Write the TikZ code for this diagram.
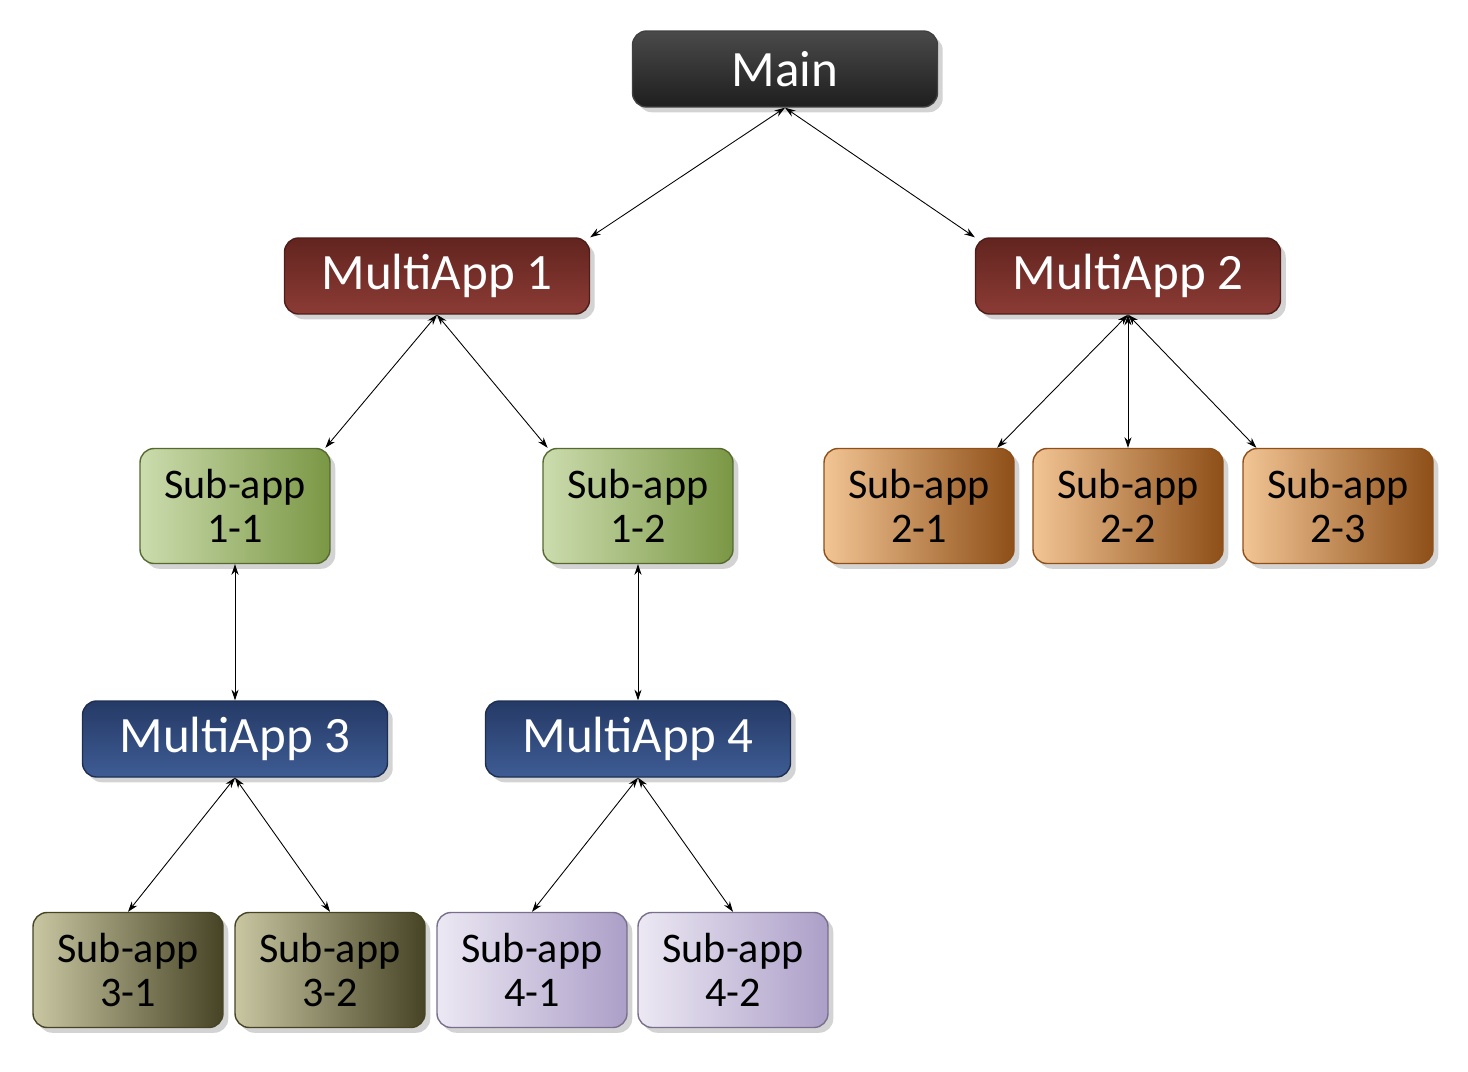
\documentclass[tikz,border=0pt]{standalone}
\usepackage{fontspec}
\setmainfont{Carlito}
\usetikzlibrary{shadows,arrows.meta}
\definecolor{mtop}{HTML}{4A4A4A}\definecolor{mbot}{HTML}{1E1E1E}
\definecolor{rtop}{HTML}{62241F}\definecolor{rbot}{HTML}{8C3B35}
\definecolor{btop}{HTML}{253A66}\definecolor{bbot}{HTML}{3E5C94}
\definecolor{gl}{HTML}{CCDCAE}\definecolor{gr}{HTML}{7A9744}
\definecolor{ol}{HTML}{F2C594}\definecolor{or}{HTML}{8E4F18}
\definecolor{kl}{HTML}{C9C6A2}\definecolor{kr}{HTML}{474426}
\definecolor{ll}{HTML}{ECE8F3}\definecolor{lr}{HTML}{AC9FC8}
\tikzset{
 base/.style={rounded corners=8pt, draw=black!75, line width=0.8pt, drop shadow={shadow xshift=3pt,shadow yshift=-3pt,opacity=0.35}},
 big/.style={base, minimum width=6.1cm, minimum height=1.52cm, font=\fontsize{29}{30}\selectfont, text=white},
 small/.style={base, minimum width=3.8cm, minimum height=2.3cm, align=center, font=\fontsize{24}{25}\selectfont, text=black},
 mainbox/.style={big, top color=mtop, bottom color=mbot},
 redbox/.style={big, top color=rtop, bottom color=rbot, draw=rtop!80!black},
 bluebox/.style={big, top color=btop, bottom color=bbot, draw=btop!80!black},
 greenbox/.style={small, left color=gl, right color=gr, draw=gr!70!black},
 orangebox/.style={small, left color=ol, right color=or, draw=or},
 olivebox/.style={small, left color=kl, right color=kr, draw=kr},
 lavbox/.style={small, left color=ll, right color=lr, draw=lr!70!black},
 conn/.style={{Stealth[length=6pt,width=4pt]}-{Stealth[length=6pt,width=4pt]}, line width=0.5pt}
}
\begin{document}
\begin{tikzpicture}[x=0.02cm,y=-0.02cm]
\useasboundingbox (0,0) rectangle (1468,1072);
\node[mainbox] (main) at (785,69) {Main};
\node[redbox] (m1) at (437,276) {MultiApp 1};
\node[redbox] (m2) at (1128,276) {MultiApp 2};
\node[greenbox] (s11) at (235,506) {Sub-app\\1-1};
\node[greenbox] (s12) at (638,506) {Sub-app\\1-2};
\node[orangebox] (s21) at (919,506) {Sub-app\\2-1};
\node[orangebox] (s22) at (1128,506) {Sub-app\\2-2};
\node[orangebox] (s23) at (1338,506) {Sub-app\\2-3};
\node[bluebox] (m3) at (235,739) {MultiApp 3};
\node[bluebox] (m4) at (638,739) {MultiApp 4};
\node[olivebox] (s31) at (128,970) {Sub-app\\3-1};
\node[olivebox] (s32) at (330,970) {Sub-app\\3-2};
\node[lavbox] (s41) at (532,970) {Sub-app\\4-1};
\node[lavbox] (s42) at (733,970) {Sub-app\\4-2};
\draw[conn] (main.south) -- (m1.north east);
\draw[conn] (main.south) -- (m2.north west);
\draw[conn] (m1.south) -- ([xshift=-3pt]s11.north east);
\draw[conn] (m1.south) -- ([xshift=3pt]s12.north west);
\draw[conn] (m2.south) -- ([xshift=-10pt]s21.north east);
\draw[conn] (m2.south) -- (s22.north);
\draw[conn] (m2.south) -- ([xshift=8pt]s23.north west);
\draw[conn] (s11.south) -- (m3.north);
\draw[conn] (s12.south) -- (m4.north);
\draw[conn] (m3.south) -- (s31.north);
\draw[conn] (m3.south) -- (s32.north);
\draw[conn] (m4.south) -- (s41.north);
\draw[conn] (m4.south) -- (s42.north);
\end{tikzpicture}
\end{document}
